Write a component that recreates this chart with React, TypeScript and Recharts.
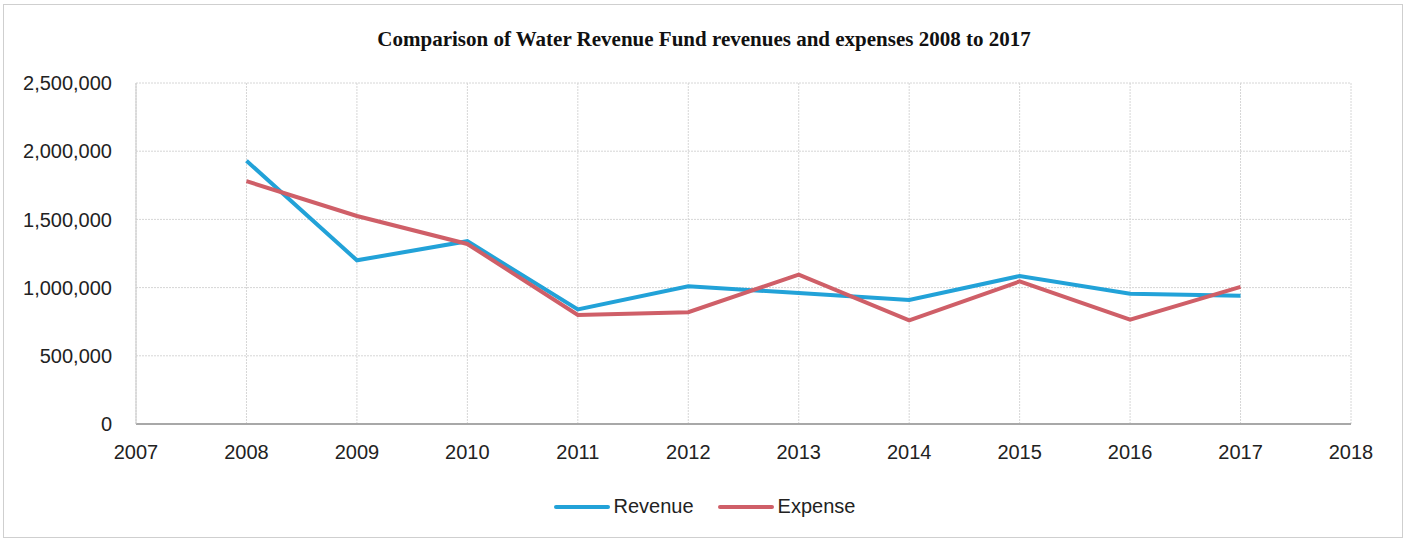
import {
  LineChart,
  Line,
  XAxis,
  YAxis,
  CartesianGrid,
  Legend,
} from "recharts";

const YEARS = [2008, 2009, 2010, 2011, 2012, 2013, 2014, 2015, 2016, 2017];
const REVENUE = [1930000, 1200000, 1340000, 840000, 1010000, 960000, 910000, 1085000, 955000, 940000];
const EXPENSE = [1780000, 1525000, 1320000, 800000, 820000, 1095000, 760000, 1045000, 765000, 1005000];
const X_TICKS = [2007, 2008, 2009, 2010, 2011, 2012, 2013, 2014, 2015, 2016, 2017, 2018];
const Y_TICKS = [0, 500000, 1000000, 1500000, 2000000, 2500000];
const SERIES = ["Revenue", "Expense"];

const TITLE = "Comparison of Water Revenue Fund revenues and expenses 2008 to 2017";

const COLORS: Record<string, string> = {
  Revenue: "#22a2d8",
  Expense: "#cf5f68",
};

const data = YEARS.map((year, i) => ({
  year,
  Revenue: REVENUE[i],
  Expense: EXPENSE[i],
}));

const tickFont = {
  fontFamily: "'Liberation Sans', Arial, sans-serif",
  fontSize: 20,
  fill: "#222",
};

function LegendContent({ payload }: any) {
  const items = [...(payload || [])].sort(
    (a: any, b: any) => SERIES.indexOf(a.value) - SERIES.indexOf(b.value)
  );
  return (
    <div style={{ display: "flex", justifyContent: "center", alignItems: "center", gap: 24, paddingLeft: 58 }}>
      {items.map((item: any) => (
        <div key={item.value} style={{ display: "flex", alignItems: "center" }}>
          <svg width={56} height={8} style={{ marginRight: 4 }}>
            <line x1={2} y1={4} x2={54} y2={4} stroke={item.color} strokeWidth={4} strokeLinecap="round" />
          </svg>
          <span style={{ fontFamily: tickFont.fontFamily, color: "#222", fontSize: 20 }}>{item.value}</span>
        </div>
      ))}
    </div>
  );
}

export default function App() {
  return (
    <div style={{ position: "absolute", left: 0, top: 0, width: 1408, height: 542, background: "#fff" }}>
      <div
        style={{
          position: "absolute",
          left: 3,
          top: 4,
          width: 1398,
          height: 532,
          border: "1px solid #cfcfcf",
          pointerEvents: "none",
        }}
      />
      <div
        style={{
          position: "absolute",
          left: 0,
          top: 27,
          width: 1408,
          textAlign: "center",
          fontFamily: "'Liberation Serif', 'Times New Roman', serif",
          fontWeight: "bold",
          fontSize: 21,
          color: "#111",
        }}
      >
        {TITLE}
      </div>
      <LineChart
        width={1408}
        height={542}
        data={data}
        margin={{ top: 83, right: 57, left: 0, bottom: 0 }}
      >
        <CartesianGrid stroke="#d6d6d6" strokeDasharray="2 1" />
        <XAxis
          dataKey="year"
          type="number"
          domain={[2007, 2018]}
          ticks={X_TICKS}
          interval={0}
          height={70}
          tickSize={0}
          tickMargin={21}
          tickLine={false}
          axisLine={{ stroke: "#a8a8a8", strokeWidth: 2 }}
          tick={tickFont}
        />
        <YAxis
          domain={[0, 2500000]}
          ticks={Y_TICKS}
          width={136}
          tickSize={0}
          tickMargin={24}
          tickLine={false}
          axisLine={{ stroke: "#c8c8c8" }}
          tick={tickFont}
          tickFormatter={(v: number) => v.toLocaleString("en-US")}
        />
        <Legend
          verticalAlign="bottom"
          height={48}
          content={<LegendContent />}
          wrapperStyle={{ top: 495, bottom: "auto" }}
        />
        <Line
          dataKey="Revenue"
          stroke={COLORS.Revenue}
          strokeWidth={4}
          dot={false}
          isAnimationActive={false}
        />
        <Line
          dataKey="Expense"
          stroke={COLORS.Expense}
          strokeWidth={4}
          dot={false}
          isAnimationActive={false}
        />
      </LineChart>
    </div>
  );
}
